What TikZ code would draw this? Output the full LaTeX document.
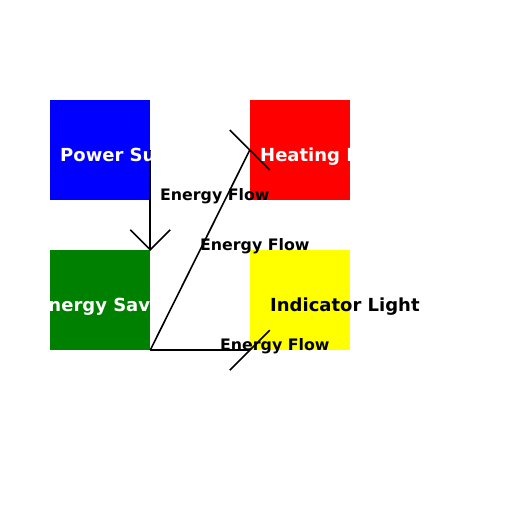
\documentclass[tikz,border=0pt]{standalone}
\usepackage{fontspec}
\setmainfont{DejaVu Sans}
\definecolor{cblue}{RGB}{0,0,255}
\definecolor{cred}{RGB}{255,0,0}
\definecolor{cgreen}{RGB}{0,128,0}
\definecolor{cyellow}{RGB}{255,255,0}
\tikzset{
  box/.style={rectangle, inner sep=0pt, minimum width=100pt, minimum height=100pt, draw=none},
  boxtext/.style={anchor=base west, inner sep=0pt, font=\fontsize{18pt}{20pt}\selectfont\bfseries},
  flowlabel/.style={anchor=base west, inner sep=0pt, font=\fontsize{15.8pt}{18pt}\selectfont\bfseries},
  flow/.style={draw=black, line width=1.6pt},
}
\begin{document}
\begin{tikzpicture}[x=1pt,y=-1pt]
\useasboundingbox[fill=white] (0,0) rectangle (512,512);
\node[box, fill=cblue] (ps) at (100,150) {};
\node[box, fill=cred] (he) at (300,150) {};
\node[box, fill=cgreen] (es) at (100,300) {};
\node[box, fill=cyellow] (il) at (300,300) {};
% connectors
\draw[flow] (ps.east) -- (es.north east);
\draw[flow] (es.north east) ++(-20,-20) -- (es.north east) -- ++(20,-20);
\draw[flow] (es.south east) -- (he.west);
\draw[flow] (he.west) ++(-20,-20) -- ++(40,40);
\draw[flow] (es.south east) -- (il.south west);
\draw[flow] (il.south west) ++(-20,20) -- ++(40,-40);
% texts
\node[boxtext, text=white] (pst) at (60,161.3) {Power Supply};
\node[boxtext, text=white] (het) at (260,161.3) {Heating Element};
\node[boxtext, text=white] (est) at (36,311.3) {Energy Saver};
\node[boxtext, text=black] (ilt) at (270,311.3) {Indicator Light};
\node[flowlabel] (l1) at (160,200.2) {Energy Flow};
\node[flowlabel] (l2) at (200,250.2) {Energy Flow};
\node[flowlabel] (l3) at (220,350.2) {Energy Flow};
\end{tikzpicture}
\end{document}
